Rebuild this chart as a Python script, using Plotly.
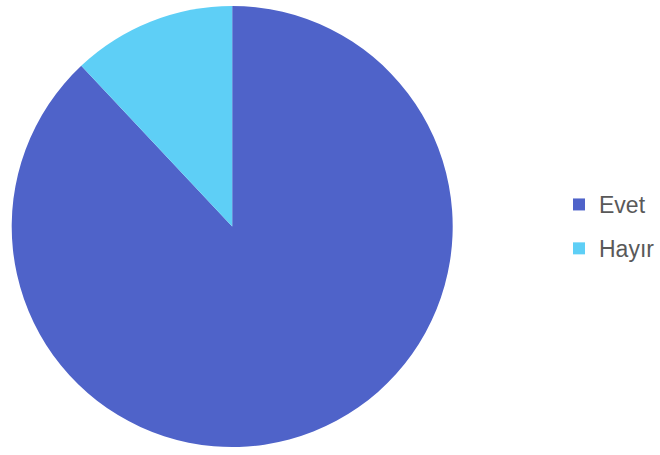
import plotly.graph_objects as go

labels = ["Evet", "Hayır"]
values = [88, 12]
colors = ["#4f63c9", "#5ecff6"]

fig = go.Figure()
fig.add_trace(go.Pie(
    labels=labels, values=values, sort=False, direction="clockwise", rotation=0,
    marker=dict(colors=colors, line=dict(width=0)),
    textinfo="none", hoverinfo="label+percent", showlegend=False,
    domain=dict(x=[0, 0.709], y=[0, 1]),
))
for lab, col in zip(labels, colors):
    fig.add_trace(go.Scatter(
        x=[None], y=[None], mode="markers", name=lab, legendgroup=lab,
        marker=dict(symbol="square", size=12, color=col),
    ))

fig.update_layout(
    width=660, height=455,
    margin=dict(l=0, r=0, t=6, b=8),
    paper_bgcolor="white", plot_bgcolor="white",
    xaxis=dict(visible=False), yaxis=dict(visible=False),
    legend=dict(x=0.854, y=0.5, xanchor="left", yanchor="middle",
                font=dict(family="Liberation Sans, Arial, sans-serif", size=23, color="#595959"),
                tracegroupgap=11, bgcolor="rgba(0,0,0,0)"),
)
fig.write_html("out.html", config={"displayModeBar": False},
               post_script="document.body.style.margin='0';document.body.style.overflow='hidden';")
